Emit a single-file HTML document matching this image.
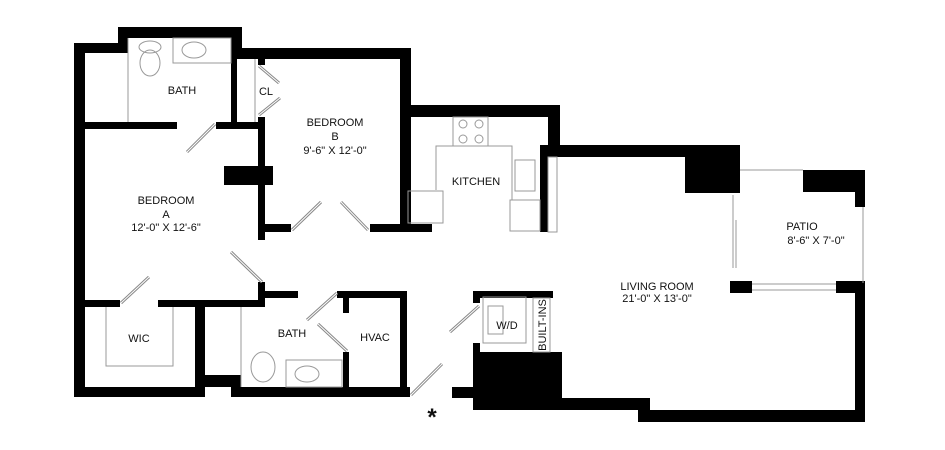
<!DOCTYPE html>
<html><head><meta charset="utf-8"><style>
html,body{margin:0;padding:0;background:#fff;width:945px;height:450px;overflow:hidden}
text{font-family:"Liberation Sans",sans-serif;font-size:11px;fill:#111;text-anchor:middle}
</style></head><body>
<svg width="945" height="450" viewBox="0 0 945 450" xmlns="http://www.w3.org/2000/svg">
<g fill="#000">
<rect x="74" y="43" width="11" height="354"/>
<rect x="74" y="43" width="54" height="10"/>
<rect x="118" y="27" width="124" height="11"/>
<rect x="118" y="27" width="10" height="26"/>
<rect x="231" y="27" width="11" height="32"/>
<rect x="231" y="48" width="180" height="11"/>
<rect x="231" y="38" width="6" height="91"/>
<rect x="400" y="48" width="11" height="177"/>
<rect x="400" y="105" width="160" height="12"/>
<rect x="548" y="105" width="12" height="52"/>
<rect x="540" y="145" width="200" height="12"/>
<rect x="540" y="145" width="8" height="87"/>
<rect x="685" y="145" width="55" height="48"/>
<rect x="74" y="122" width="103" height="7"/>
<rect x="216" y="122" width="49" height="7"/>
<rect x="258" y="58" width="7" height="7"/>
<rect x="258" y="117" width="7" height="123"/>
<rect x="224" y="166" width="49" height="19"/>
<rect x="258" y="224" width="33" height="8"/>
<rect x="370" y="224" width="62" height="8"/>
<rect x="74" y="300" width="46" height="7"/>
<rect x="158" y="300" width="107" height="7"/>
<rect x="258" y="282" width="7" height="25"/>
<rect x="265" y="291" width="33" height="7"/>
<rect x="74" y="387" width="131" height="10"/>
<rect x="195" y="307" width="10" height="90"/>
<rect x="205" y="375" width="36" height="12"/>
<rect x="231" y="375" width="10" height="22"/>
<rect x="231" y="387" width="179" height="10"/>
<rect x="337" y="291" width="70" height="7"/>
<rect x="343" y="291" width="6" height="22"/>
<rect x="343" y="352" width="6" height="35"/>
<rect x="400" y="291" width="7" height="106"/>
<rect x="473" y="291" width="80" height="7"/>
<rect x="473" y="291" width="7" height="12"/>
<rect x="473" y="343" width="7" height="12"/>
<rect x="473" y="352" width="89" height="58"/>
<rect x="452" y="387" width="21" height="11"/>
<rect x="562" y="398" width="88" height="12"/>
<rect x="638" y="410" width="227" height="12"/>
<rect x="855" y="281" width="10" height="141"/>
<rect x="836" y="281" width="29" height="12"/>
<rect x="730" y="281" width="22" height="12"/>
<rect x="803" y="170" width="62" height="22"/>
<rect x="855" y="170" width="10" height="37"/>
</g>
<g fill="none" stroke="#999" stroke-width="1">
<line x1="128" y1="38" x2="128" y2="122"/>
<rect x="173" y="38" width="58" height="25"/>
<line x1="255" y1="59" x2="255" y2="122"/>
<line x1="740" y1="170" x2="803" y2="170"/>
<line x1="863" y1="207" x2="863" y2="283"/>
<line x1="733" y1="195" x2="733" y2="268"/>
<line x1="736" y1="220" x2="736" y2="268"/>
<line x1="752" y1="284" x2="836" y2="284"/>
<line x1="752" y1="290" x2="836" y2="290"/>
<rect x="548" y="157" width="9" height="75"/>
<rect x="453" y="117" width="35" height="29"/>
<polyline points="436,190 436,146 512,146 512,200"/>
<rect x="515" y="160" width="20" height="31"/>
<rect x="408" y="191" width="35" height="32"/>
<rect x="510" y="200" width="30" height="31"/>
<circle cx="463" cy="124" r="4"/><circle cx="479" cy="124" r="4"/>
<circle cx="463" cy="139" r="4"/><circle cx="479" cy="139" r="4"/>
<polyline points="106,307 106,366 173,366 173,307"/>
<line x1="241" y1="307" x2="241" y2="387"/>
<rect x="286" y="360" width="56" height="27"/>
<ellipse cx="307" cy="374" rx="12" ry="8"/>
<ellipse cx="194" cy="50" rx="12" ry="8"/>
<ellipse cx="150" cy="47" rx="11" ry="6"/>
<ellipse cx="150" cy="63" rx="10" ry="13"/>
<ellipse cx="263" cy="367" rx="12" ry="15"/>
<rect x="483" y="297" width="43" height="46"/>
<rect x="488" y="306" width="15" height="28"/>
<rect x="533" y="298" width="17" height="54"/>
</g>
<g stroke="#888" stroke-width="3">
<line x1="187" y1="152" x2="215" y2="124"/>
<line x1="259" y1="66" x2="279" y2="83"/>
<line x1="259" y1="115" x2="280" y2="98"/>
<line x1="292" y1="230" x2="321" y2="202"/>
<line x1="341" y1="202" x2="368" y2="230"/>
<line x1="231" y1="252" x2="262" y2="282"/>
<line x1="121" y1="303" x2="149" y2="277"/>
<line x1="307" y1="320" x2="337" y2="293"/>
<line x1="318" y1="324" x2="347" y2="351"/>
<line x1="411" y1="395" x2="442" y2="364"/>
<line x1="450" y1="332" x2="479" y2="306"/>
</g>
<g stroke="#fff" stroke-width="1">
<line x1="187" y1="152" x2="215" y2="124"/>
<line x1="259" y1="66" x2="279" y2="83"/>
<line x1="259" y1="115" x2="280" y2="98"/>
<line x1="292" y1="230" x2="321" y2="202"/>
<line x1="341" y1="202" x2="368" y2="230"/>
<line x1="231" y1="252" x2="262" y2="282"/>
<line x1="121" y1="303" x2="149" y2="277"/>
<line x1="307" y1="320" x2="337" y2="293"/>
<line x1="318" y1="324" x2="347" y2="351"/>
<line x1="411" y1="395" x2="442" y2="364"/>
<line x1="450" y1="332" x2="479" y2="306"/>
</g>
<text x="182" y="94">BATH</text>
<text x="266" y="95">CL</text>
<text x="335" y="126">BEDROOM</text>
<text x="335" y="140">B</text>
<text x="335" y="154">9'-6" X 12'-0"</text>
<text x="476" y="185">KITCHEN</text>
<text x="166" y="204">BEDROOM</text>
<text x="166" y="218">A</text>
<text x="166" y="231">12'-0" X 12'-6"</text>
<text x="139" y="342">WIC</text>
<text x="292" y="337">BATH</text>
<text x="375" y="341">HVAC</text>
<text x="507" y="329">W/D</text>
<text x="0" y="0" transform="translate(546,325) rotate(-90)">BUILT-INS</text>
<text x="657" y="290">LIVING ROOM</text>
<text x="657" y="302">21'-0" X 13'-0"</text>
<text x="802" y="230">PATIO</text>
<text x="816" y="244">8'-6" X 7'-0"</text>
<text x="432" y="425" style="font-size:24px;font-weight:bold">*</text>
</svg>
</body></html>
